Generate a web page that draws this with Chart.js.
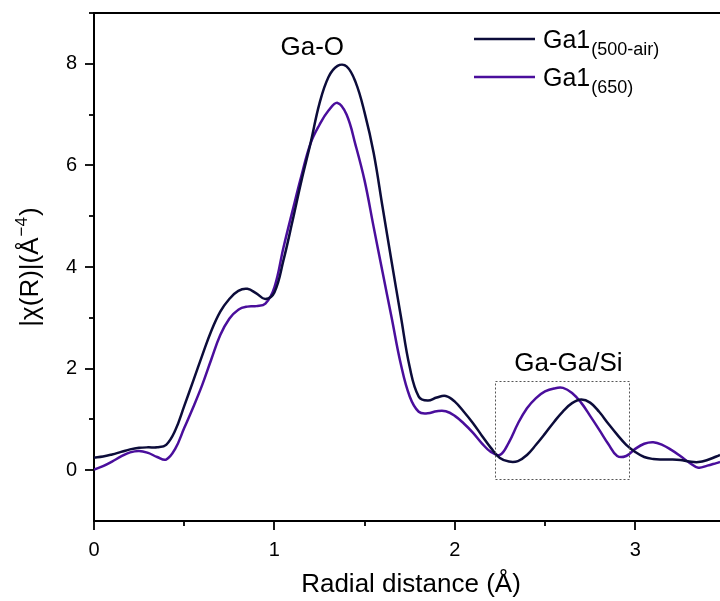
<!DOCTYPE html>
<html>
<head>
<meta charset="utf-8">
<script src="https://cdn.jsdelivr.net/npm/chart.js@4.4.0/dist/chart.umd.min.js"></script>
<style>
    html, body { margin: 0; padding: 0; background: #fff; }
    #wrap { width: 720px; height: 601px; }
</style>
</head>
<body>
<div id="wrap"><canvas id="chiChart" width="720" height="601"></canvas></div>
<script>
// radial distance grid (Å)
var rGrid = [0, 0.05, 0.1, 0.15, 0.2, 0.25, 0.3, 0.35, 0.4, 0.45,
    0.5, 0.55, 0.6, 0.65, 0.7, 0.75, 0.8, 0.85, 0.9, 0.95,
    1.0, 1.05, 1.1, 1.15, 1.2, 1.25, 1.3, 1.35, 1.4, 1.45,
    1.5, 1.55, 1.6, 1.65, 1.7, 1.75, 1.8, 1.85, 1.9, 1.95,
    2.0, 2.05, 2.1, 2.15, 2.2, 2.25, 2.3, 2.35, 2.4, 2.45,
    2.5, 2.55, 2.6, 2.65, 2.7, 2.75, 2.8, 2.85, 2.9, 2.95,
    3.0, 3.05, 3.1, 3.15, 3.2, 3.25, 3.3, 3.35, 3.4, 3.45, 3.47];

// |chi(R)| Ga1 (500-air)
var ga500air = [0.25, 0.27, 0.31, 0.36, 0.41, 0.44, 0.45, 0.45, 0.50, 0.78,
    1.26, 1.76, 2.26, 2.74, 3.12, 3.37, 3.53, 3.57, 3.48, 3.37,
    3.50, 4.13, 4.90, 5.70, 6.43, 7.22, 7.74, 7.96, 7.95, 7.64,
    7.04, 6.25, 5.17, 4.10, 3.05, 2.03, 1.45, 1.37, 1.43, 1.46,
    1.35, 1.15, 0.93, 0.68, 0.44, 0.24, 0.17, 0.18, 0.30, 0.50,
    0.72, 0.95, 1.16, 1.32, 1.39, 1.33, 1.15, 0.92, 0.70, 0.50,
    0.36, 0.26, 0.22, 0.21, 0.21, 0.20, 0.17, 0.16, 0.20, 0.27, 0.30];

// |chi(R)| Ga1 (650)
var ga650 = [0.01, 0.08, 0.17, 0.27, 0.35, 0.38, 0.34, 0.26, 0.21, 0.42,
    0.83, 1.24, 1.68, 2.18, 2.66, 2.98, 3.16, 3.22, 3.23, 3.28,
    3.60, 4.38, 5.10, 5.80, 6.43, 6.80, 7.08, 7.23, 7.00, 6.40,
    5.70, 4.79, 3.89, 3.00, 2.10, 1.45, 1.15, 1.12, 1.16, 1.16,
    1.07, 0.92, 0.74, 0.53, 0.36, 0.30, 0.55, 0.92, 1.22, 1.42,
    1.55, 1.61, 1.62, 1.52, 1.33, 1.07, 0.80, 0.52, 0.28, 0.28,
    0.42, 0.52, 0.55, 0.50, 0.40, 0.28, 0.15, 0.05, 0.09, 0.14, 0.16];

var seriesNames = ['Ga1', 'Ga1'];
var seriesSubs = ['(500-air)', '(650)'];
var seriesColors = ['#0c0c3a', '#4a0e9c'];

var xTickLabels = [0, 1, 2, 3];
var yTickLabels = [0, 2, 4, 6, 8];

// dotted box around the Ga-Ga/Si shell (data units)
var boxR = [2.225, 2.97];
var boxChi = [-0.16, 1.76];

var FONT = '"Liberation Sans", Arial, sans-serif';

function toPoints(xs, ys) {
    var pts = [];
    for (var i = 0; i < xs.length; i++) {
        pts.push({x: xs[i], y: ys[i]});
    }
    return pts;
}

var decorPlugin = {
    id: 'decor',
    afterDraw: function (chart) {
        var ctx = chart.ctx;
        var area = chart.chartArea;
        var xs = chart.scales.x, ys = chart.scales.y;
        ctx.save();
        ctx.strokeStyle = '#000';
        ctx.lineWidth = 2;
        // top frame line
        ctx.beginPath();
        ctx.moveTo(area.left - 1, area.top);
        ctx.lineTo(area.right, area.top);
        ctx.stroke();
        // x ticks (major on integers, minor on halves)
        ctx.lineWidth = 1.8;
        for (var v = 0; v <= 3.5; v += 0.5) {
            var px = Math.round(xs.getPixelForValue(v));
            if (px > area.right) continue;
            var len = (v % 1 === 0) ? 9 : 5;
            ctx.beginPath();
            ctx.moveTo(px, area.bottom);
            ctx.lineTo(px, area.bottom + len);
            ctx.stroke();
        }
        // y ticks
        for (var w = 0; w <= 9; w++) {
            var py = Math.round(ys.getPixelForValue(w));
            var ylen = (w % 2 === 0) ? 9 : 5;
            ctx.beginPath();
            ctx.moveTo(area.left, py);
            ctx.lineTo(area.left - ylen, py);
            ctx.stroke();
        }
        // dotted box
        ctx.strokeStyle = '#555';
        ctx.lineWidth = 1;
        ctx.setLineDash([2, 2]);
        var bx0 = xs.getPixelForValue(boxR[0]), bx1 = xs.getPixelForValue(boxR[1]);
        var by0 = ys.getPixelForValue(boxChi[1]), by1 = ys.getPixelForValue(boxChi[0]);
        ctx.strokeRect(Math.round(bx0) + 0.5, Math.round(by0) + 0.5, Math.round(bx1 - bx0), Math.round(by1 - by0));
        ctx.setLineDash([]);

        // annotations
        ctx.fillStyle = '#000';
        ctx.textAlign = 'center';
        ctx.textBaseline = 'alphabetic';
        ctx.font = '26px ' + FONT;
        ctx.fillText('Ga-O', xs.getPixelForValue(1.21), ys.getPixelForValue(8.0) - 9);
        ctx.fillText('Ga-Ga/Si', xs.getPixelForValue(2.63), ys.getPixelForValue(2.0) + 2);

        // legend
        ctx.textAlign = 'left';
        for (var i = 0; i < seriesNames.length; i++) {
            var ly = 39 + i * 38;
            ctx.strokeStyle = seriesColors[i];
            ctx.lineWidth = 2.5;
            ctx.beginPath();
            ctx.moveTo(474, ly);
            ctx.lineTo(535, ly);
            ctx.stroke();
            ctx.font = '25px ' + FONT;
            ctx.fillText(seriesNames[i], 543, ly + 9);
            var nameW = ctx.measureText(seriesNames[i]).width;
            ctx.font = '18px ' + FONT;
            ctx.fillText(seriesSubs[i], 543 + nameW + 1, ly + 16);
        }

        // x axis title
        ctx.font = '26px ' + FONT;
        ctx.textAlign = 'center';
        ctx.fillText('Radial distance (\u00C5)', 411, 592);

        // y axis title (rotated, with superscript)
        ctx.translate(38, 268);
        ctx.rotate(-Math.PI / 2);
        var part1 = '|\u03C7(R)|(\u00C5', sup = '\u22124', part3 = ')';
        ctx.font = '26px ' + FONT;
        var w1 = ctx.measureText(part1).width;
        var w3 = ctx.measureText(part3).width;
        ctx.font = '17px ' + FONT;
        var w2 = ctx.measureText(sup).width;
        var start = -(w1 + w2 + w3) / 2;
        ctx.textAlign = 'left';
        ctx.font = '26px ' + FONT;
        ctx.fillText(part1, start, 0);
        ctx.font = '17px ' + FONT;
        ctx.fillText(sup, start + w1 + 1, -11);
        ctx.font = '26px ' + FONT;
        ctx.fillText(part3, start + w1 + w2 + 2, 0);
        ctx.restore();
    }
};

var chart = new Chart(document.getElementById('chiChart').getContext('2d'), {
    type: 'line',
    data: {
        datasets: [
            {
                label: seriesNames[0] + seriesSubs[0],
                data: toPoints(rGrid, ga500air),
                borderColor: seriesColors[0],
                borderWidth: 2.5,
                pointRadius: 0,
                tension: 0.4,
                fill: false
            },
            {
                label: seriesNames[1] + seriesSubs[1],
                data: toPoints(rGrid, ga650),
                borderColor: seriesColors[1],
                borderWidth: 2.5,
                pointRadius: 0,
                tension: 0.4,
                fill: false
            }
        ]
    },
    options: {
        responsive: false,
        animation: false,
        layout: {padding: {top: 13, right: 0, left: 0, bottom: 0}},
        plugins: {legend: {display: false}, tooltip: {enabled: false}},
        scales: {
            x: {
                type: 'linear',
                min: 0,
                max: 3.47,
                afterFit: function (scale) {
                    scale.height = 80;
                    scale.paddingLeft = 0;
                    scale.paddingRight = 0;
                },
                border: {display: true, color: '#000', width: 2},
                grid: {drawOnChartArea: false, drawTicks: false, color: 'rgba(0,0,0,0)'},
                ticks: {
                    stepSize: 1,
                    includeBounds: false,
                    padding: 17,
                    color: '#000',
                    font: {family: FONT, size: 20},
                    callback: function (v) { return xTickLabels.indexOf(v) >= 0 ? String(v) : ''; }
                }
            },
            y: {
                type: 'linear',
                min: -1,
                max: 9,
                afterFit: function (scale) {
                    scale.width = 94;
                    scale.paddingTop = 0;
                    scale.paddingBottom = 0;
                },
                border: {display: true, color: '#000', width: 2},
                grid: {drawOnChartArea: false, drawTicks: false, color: 'rgba(0,0,0,0)'},
                ticks: {
                    stepSize: 1,
                    padding: 17,
                    color: '#000',
                    font: {family: FONT, size: 20},
                    callback: function (v) { return yTickLabels.indexOf(v) >= 0 ? String(v) : ''; }
                }
            }
        }
    },
    plugins: [decorPlugin]
});
</script>
</body>
</html>
